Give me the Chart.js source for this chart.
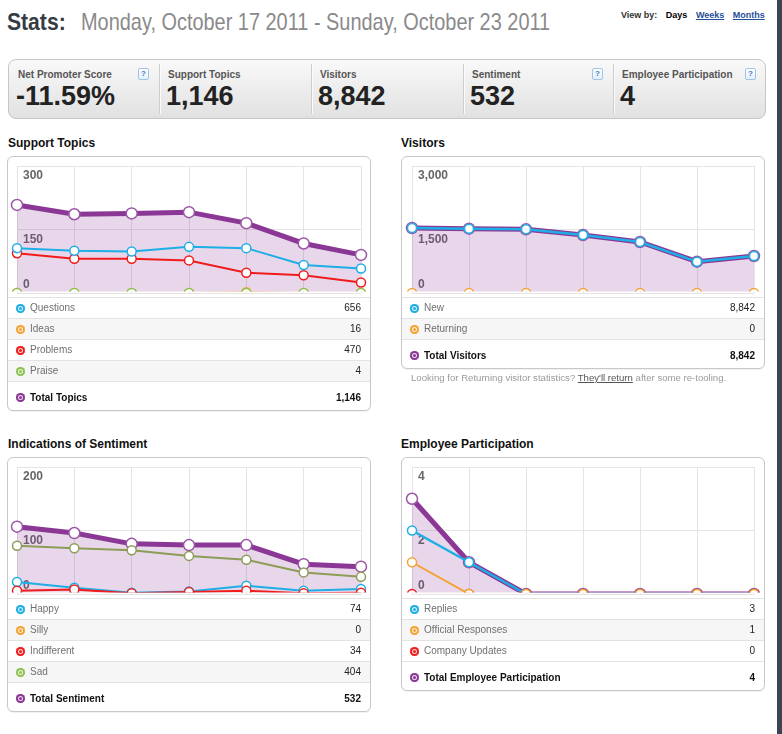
<!DOCTYPE html>
<html>
<head>
<meta charset="utf-8">
<script src="https://cdn.jsdelivr.net/npm/chart.js@4.4.1/dist/chart.umd.min.js"></script>
<style>
  body { margin: 0; width: 782px; height: 734px; overflow: hidden; background: #fff; position: relative;
         font-family: "Liberation Sans", Arial, Helvetica, sans-serif; }
  .abs { position: absolute; white-space: nowrap; }
  #stats { left: 7px; top: 10px; font-size: 24px; line-height: 24px; font-weight: bold; color: #353b42;
           transform: scaleX(0.88); transform-origin: 0 0; }
  #dates { left: 81px; top: 10px; font-size: 24px; line-height: 24px; color: #8a8a8a;
           transform: scaleX(0.83); transform-origin: 0 0; }
  #viewby { left: 621px; top: 10px; font-size: 9px; line-height: 10px; font-weight: bold; color: #333; }
  #viewby b { color: #000; margin-left: 6px; }
  #viewby a { color: #1f4f95; text-decoration: underline; margin-left: 6px; }
  #strip { left: 777px; top: 0; width: 5px; height: 734px; background: #3d4550; }

  #statbar { left: 8px; top: 59px; width: 758px; height: 60px; box-sizing: border-box; border: 1px solid #c6c6c6;
             border-radius: 8px; background: linear-gradient(#f9f9f9, #e1e1e1); display: flex; }
  .cell { position: relative; height: 100%; box-sizing: border-box; }
  .cell + .cell::before { content: ""; position: absolute; left: 0; top: 4px; bottom: 4px; width: 1px;
                          background: #cdcdcd; box-shadow: 1px 0 0 #fbfbfb; }
  .cell .lbl { position: absolute; left: 9px; top: 10px; font-size: 10px; line-height: 10px; font-weight: bold; color: #555; }
  .cell .val { position: absolute; left: 7px; top: 23px; font-size: 27px; line-height: 27px; font-weight: bold; color: #222; }
  .cell .q { position: absolute; top: 8px; width: 9px; height: 10px; border: 1px solid #9fc4e8; border-radius: 2px;
             background: linear-gradient(#fff, #e4eefa); font-size: 8px; line-height: 10px; text-align: center;
             font-weight: bold; color: #3b79c3; }

  .title { font-size: 12px; line-height: 12px; font-weight: bold; color: #111; }
  .panel { position: absolute; box-sizing: border-box; width: 364px; border: 1px solid #c8c8c8; border-radius: 6px;
           background: #fff; box-shadow: 0 1px 1px rgba(0,0,0,0.06); overflow: hidden; }
  .panel canvas { display: block; margin-bottom: -3px; }
  .row { position: relative; height: 21px; box-sizing: border-box; border-top: 1px solid #e3e3e3;
         font-size: 10px; line-height: 20px; color: #707070; }
  .row.alt { background: #f6f6f6; }
  .row.tot { height: 29px; line-height: 31px; font-weight: bold; color: #111; }
  .row .dot { position: absolute; left: 8px; top: 6px; width: 9px; height: 9px; border-radius: 50%; }
  .row.tot .dot { top: 11px; }
  .row .name { position: absolute; left: 22px; }
  .row .num { position: absolute; right: 9px; color: #222; }
  .row.tot .num { color: #111; }
  #note { left: 411px; top: 373px; font-size: 9.6px; line-height: 10px; color: #9a9a9a; }
  #note u { color: #555; }
</style>
</head>
<body>
<div class="abs" id="stats">Stats:</div>
<div class="abs" id="dates">Monday, October 17 2011 - Sunday, October 23 2011</div>
<div class="abs" id="viewby">View by: <b>Days</b> <a>Weeks</a> <a>Months</a></div>
<div class="abs" id="strip"></div>

<div class="abs" id="statbar"></div>

<div class="abs title" style="left:8px;top:137px">Support Topics</div>
<div class="abs title" style="left:401px;top:137px">Visitors</div>
<div class="abs title" style="left:8px;top:438px">Indications of Sentiment</div>
<div class="abs title" style="left:401px;top:438px">Employee Participation</div>

<div class="panel" id="p1" style="left:7px;top:156px"><canvas id="c1" width="362" height="143"></canvas></div>
<div class="panel" id="p2" style="left:401px;top:156px"><canvas id="c2" width="362" height="143"></canvas></div>
<div class="panel" id="p3" style="left:7px;top:457px"><canvas id="c3" width="362" height="143"></canvas></div>
<div class="panel" id="p4" style="left:401px;top:457px"><canvas id="c4" width="362" height="143"></canvas></div>
<div class="abs" id="note">Looking for Returning visitor statistics? <u>They'll return</u> after some re-tooling.</div>

<script>
// categories (one week, by day)
const days = ["Mon", "Tue", "Wed", "Thu", "Fri", "Sat", "Sun"];

// summary bar
const statNames = ["Net Promoter Score", "Support Topics", "Visitors", "Sentiment", "Employee Participation"];
const statValues = ["-11.59%", "1,146", "8,842", "532", "4"];
const statHelp = [true, false, false, true, true];

// Support Topics
const questions = [106, 100, 98, 109, 106, 66, 58];
const ideas = [0, 0, 0, 0, 2, 0, 0];
const problems = [94, 81, 81, 77, 48, 42, 25];
const praise = [0, 0, 0, 0, 0, 0, 0];
const totalTopics = [208, 186, 188, 191, 165, 117, 90];
const topicNames = ["Questions", "Ideas", "Problems", "Praise", "Total Topics"];
const topicSums = ["656", "16", "470", "4", "1,146"];

// Visitors
const newVisitors = [1535, 1519, 1504, 1370, 1205, 740, 874];
const returning = [0, 0, 0, 0, 0, 0, 0];
const totalVisitors = [1535, 1519, 1504, 1370, 1205, 740, 874];
const visitorNames = ["New", "Returning", "Total Visitors"];
const visitorSums = ["8,842", "0", "8,842"];

// Indications of Sentiment
const happy = [19, 10, 2, 4, 13, 5, 8];
const silly = [0, 0, 0, 0, 0, 0, 0];
const indifferent = [5, 7, 1, 3, 5, 1, 2];
const sad = [76, 72, 69, 60, 54, 34, 27];
const totalSentiment = [106, 96, 79, 77, 77, 47, 43];
const sentimentNames = ["Happy", "Silly", "Indifferent", "Sad", "Total Sentiment"];
const sentimentSums = ["74", "0", "34", "404", "532"];

// Employee Participation
const replies = [2, 1, 0, 0, 0, 0, 0];
const official = [1, 0, 0, 0, 0, 0, 0];
const updates = [0, 0, 0, 0, 0, 0, 0];
const totalEmployee = [3, 1, 0, 0, 0, 0, 0];
const employeeNames = ["Replies", "Official Responses", "Company Updates", "Total Employee Participation"];
const employeeSums = ["3", "1", "0", "4"];

const BLUE = "#1eaee6", ORANGE = "#f6a233", RED = "#f01c1c", GREEN = "#8cc152",
      OLIVE = "#8c9d57", PURPLE = "#8b3795";
const GRID = "#e4e4e4";
// the bottom edge cuts the zero-value marks in half, as in the original
const CLIP = { left: 8, top: 8, right: 8, bottom: -1.5 };

// summary bar cells
const cellWidths = [150, 152, 152, 150, 152];
const bar = document.getElementById("statbar");
statNames.forEach((name, i) => {
  const c = document.createElement("div");
  c.className = "cell";
  c.style.width = cellWidths[i] + "px";
  c.innerHTML = `<div class="lbl">${name}</div><div class="val">${statValues[i]}</div>` +
    (statHelp[i] ? `<div class="q" style="right:${i === 4 ? 9 : 10}px">?</div>` : "");
  bar.appendChild(c);
});

// legend tables under each chart
function table(panelId, names, sums, colors) {
  const p = document.getElementById(panelId);
  names.forEach((n, i) => {
    const last = i === names.length - 1;
    const r = document.createElement("div");
    r.className = "row" + (last ? " tot" : (i % 2 ? " alt" : ""));
    const col = colors[i];
    r.innerHTML = `<span class="dot" style="background:${col};box-shadow:inset 0 0 0 2px ${col},inset 0 0 0 3px rgba(255,255,255,0.85)"></span>` +
      `<span class="name">${n}</span><span class="num">${sums[i]}</span>`;
    p.appendChild(r);
  });
}
table("p1", topicNames, topicSums, [BLUE, ORANGE, RED, GREEN, PURPLE]);
table("p2", visitorNames, visitorSums, [BLUE, ORANGE, PURPLE]);
table("p3", sentimentNames, sentimentSums, [BLUE, ORANGE, RED, GREEN, PURPLE]);
table("p4", employeeNames, employeeSums, [BLUE, ORANGE, RED, PURPLE]);

// y labels sit inside the plot, under their grid line (the zero label above it)
const yLabels = {
  id: "yLabels",
  beforeDatasetsDraw(chart) {
    const s = chart.scales.y, ctx = chart.ctx, x = chart.chartArea.left + 6;
    ctx.save();
    ctx.font = 'bold 12px "Liberation Sans", Arial, sans-serif';
    ctx.fillStyle = "#666";
    ctx.textAlign = "left";
    s.ticks.forEach(t => {
      const y = s.getPixelForValue(t.value);
      if (t.value === s.min) {
        ctx.textBaseline = "bottom";
        ctx.fillText(t.label, x, y - 2);
      } else {
        ctx.textBaseline = "top";
        ctx.fillText(t.label, x, y + 4);
      }
    });
    ctx.restore();
  }
};

function line(data, color, order, width) {
  return {
    data, order, clip: CLIP, fill: false,
    borderColor: color, borderWidth: width || 2,
    pointRadius: 4.5, pointBorderWidth: 1.5,
    pointBackgroundColor: "#fff", pointBorderColor: color
  };
}
function total(data) {
  return {
    data, order: 10, clip: CLIP, fill: "origin",
    backgroundColor: "rgba(139,55,149,0.2)",
    borderColor: PURPLE, borderWidth: 5,
    pointRadius: 5.5, pointBorderWidth: 1.5,
    pointBackgroundColor: "#fff", pointBorderColor: "#9a55a5"
  };
}

function makeChart(id, max, step, datasets, side) {
  return new Chart(document.getElementById(id), {
    type: "line",
    data: { labels: days, datasets },
    options: {
      responsive: false,
      animation: false,
      locale: "en-US",
      layout: { padding: { left: side, right: side, top: 9, bottom: 1 } },
      plugins: { legend: { display: false }, tooltip: { enabled: false } },
      scales: {
        x: {
          grid: { color: GRID, drawTicks: false },
          border: { display: false },
          ticks: { display: false }
        },
        y: {
          min: 0, max,
          ticks: { display: false, stepSize: step },
          grid: { color: GRID, drawTicks: false },
          border: { display: false }
        }
      }
    },
    plugins: [yLabels]
  });
}

makeChart("c1", 300, 150, [
  line(questions, BLUE, 1),
  line(praise, GREEN, 2),
  line(problems, RED, 3),
  line(ideas, ORANGE, 4),
  total(totalTopics)
], 9);

makeChart("c2", 3000, 1500, [
  line(newVisitors, BLUE, 3, 2.5),
  line(returning, ORANGE, 1),
  total(totalVisitors)
], 10);

makeChart("c3", 200, 100, [
  line(indifferent, RED, 1),
  line(happy, BLUE, 2),
  line(silly, ORANGE, 3),
  line(sad, OLIVE, 4),
  total(totalSentiment)
], 9);

makeChart("c4", 4, 2, [
  line(replies, BLUE, 3, 2.5),
  line(official, ORANGE, 1),
  line(updates, RED, 2),
  total(totalEmployee)
], 10);
</script>
</body>
</html>
